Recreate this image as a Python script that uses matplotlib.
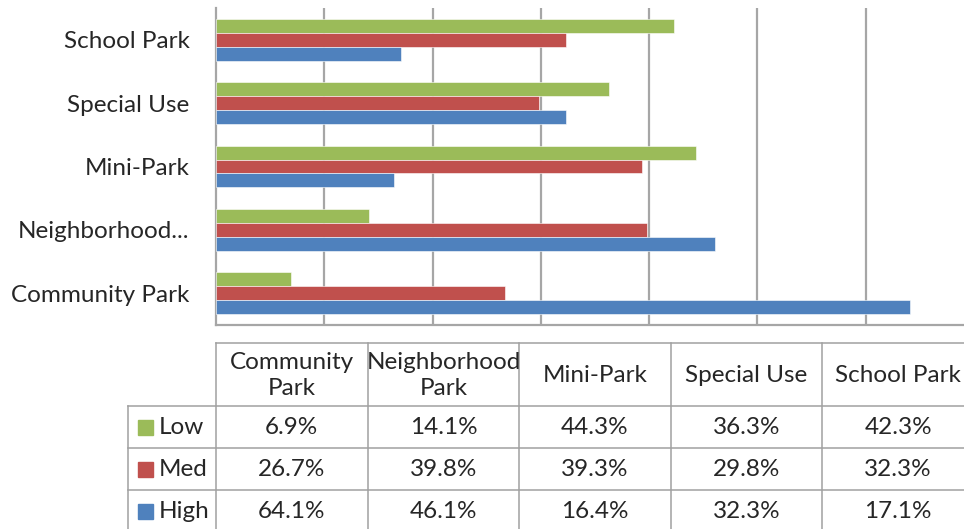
import numpy as np
import matplotlib.pyplot as plt
from matplotlib.patches import Rectangle

plt.rcParams['font.family'] = ['Lato', 'DejaVu Sans']

parks = ["Community Park", "Neighborhood...", "Mini-Park", "Special Use", "School Park"]
headers = ["Community\nPark", "Neighborhood\nPark", "Mini-Park", "Special Use", "School Park"]
series = ["Low", "Med", "High"]
low = [6.9, 14.1, 44.3, 36.3, 42.3]
med = [26.7, 39.8, 39.3, 29.8, 32.3]
high = [64.1, 46.1, 16.4, 32.3, 17.1]
colors = ["#9BBB59", "#C0504D", "#4F81BD"]
txt = "#262626"
grid_c = "#A6A6A6"

W, H = 964, 529
fig = plt.figure(figsize=(W / 100, H / 100), dpi=100)

# chart area in pixels
x0, x1 = 216, 974
y_top, y_bot = 8, 325
ax = fig.add_axes([x0 / W, 1 - y_bot / H, (x1 - x0) / W, (y_bot - y_top) / H])

y = np.arange(len(parks))
h = 0.22
vals = [low, med, high]
for i, (name, v) in enumerate(zip(series, vals)):
    ax.barh(y + h - i * h, np.array(v) / 100, height=h, color=colors[i],
            edgecolor="white", linewidth=0.4, zorder=3)

ax.set_xlim(0, 0.7)
ax.set_ylim(-0.5, 4.5)
ax.set_xticks(np.arange(0.1, 0.7, 0.1))
ax.set_xticklabels([])
ax.xaxis.grid(True, color=grid_c, linewidth=1.6)
ax.tick_params(axis="x", length=0)
ax.tick_params(axis="y", length=0, pad=19, labelsize=17.5, labelcolor=txt)
ax.set_yticks(y)
ax.set_yticklabels(parks)
for s in ["top", "right"]:
    ax.spines[s].set_visible(False)
for s in ["left", "bottom"]:
    ax.spines[s].set_color(grid_c)
    ax.spines[s].set_linewidth(1.6)

# data table drawn in pixel coordinates
tb = fig.add_axes([0, 0, 1, 1])
tb.set_xlim(0, W)
tb.set_ylim(H, 0)
tb.axis("off")

col_w = (x1 - x0) / 5
cols = [x0 + i * col_w for i in range(6)]
leg_x = 128
rows = [343, 406, 448, 490, 532]
lc = "#A0A0A0"
lw = 1.1

# header box
tb.plot([x0, x1], [rows[0], rows[0]], color=lc, lw=lw)
for r in rows[1:]:
    tb.plot([leg_x, x1], [r, r], color=lc, lw=lw)
for c in cols:
    tb.plot([c, c], [rows[0], rows[-1]], color=lc, lw=lw)
tb.plot([leg_x, leg_x], [rows[1], rows[-1]], color=lc, lw=lw)

for j, hd in enumerate(headers):
    tb.text((cols[j] + cols[j + 1]) / 2, (rows[0] + rows[1]) / 2 + 1, hd,
            ha="center", va="center", fontsize=17.5, color=txt, linespacing=1.35)

for i, (name, v) in enumerate(zip(series, vals)):
    yc = (rows[i + 1] + rows[i + 2]) / 2
    tb.add_patch(Rectangle((138, yc - 7), 15, 15, color=colors[i]))
    tb.text(159, yc + 1, name, ha="left", va="center", fontsize=17.5, color=txt)
    for j, val in enumerate(v):
        tb.text((cols[j] + cols[j + 1]) / 2, yc + 1, f"{val:.1f}%",
                ha="center", va="center", fontsize=17.5, color=txt)

fig.savefig("out.png", dpi=100)
